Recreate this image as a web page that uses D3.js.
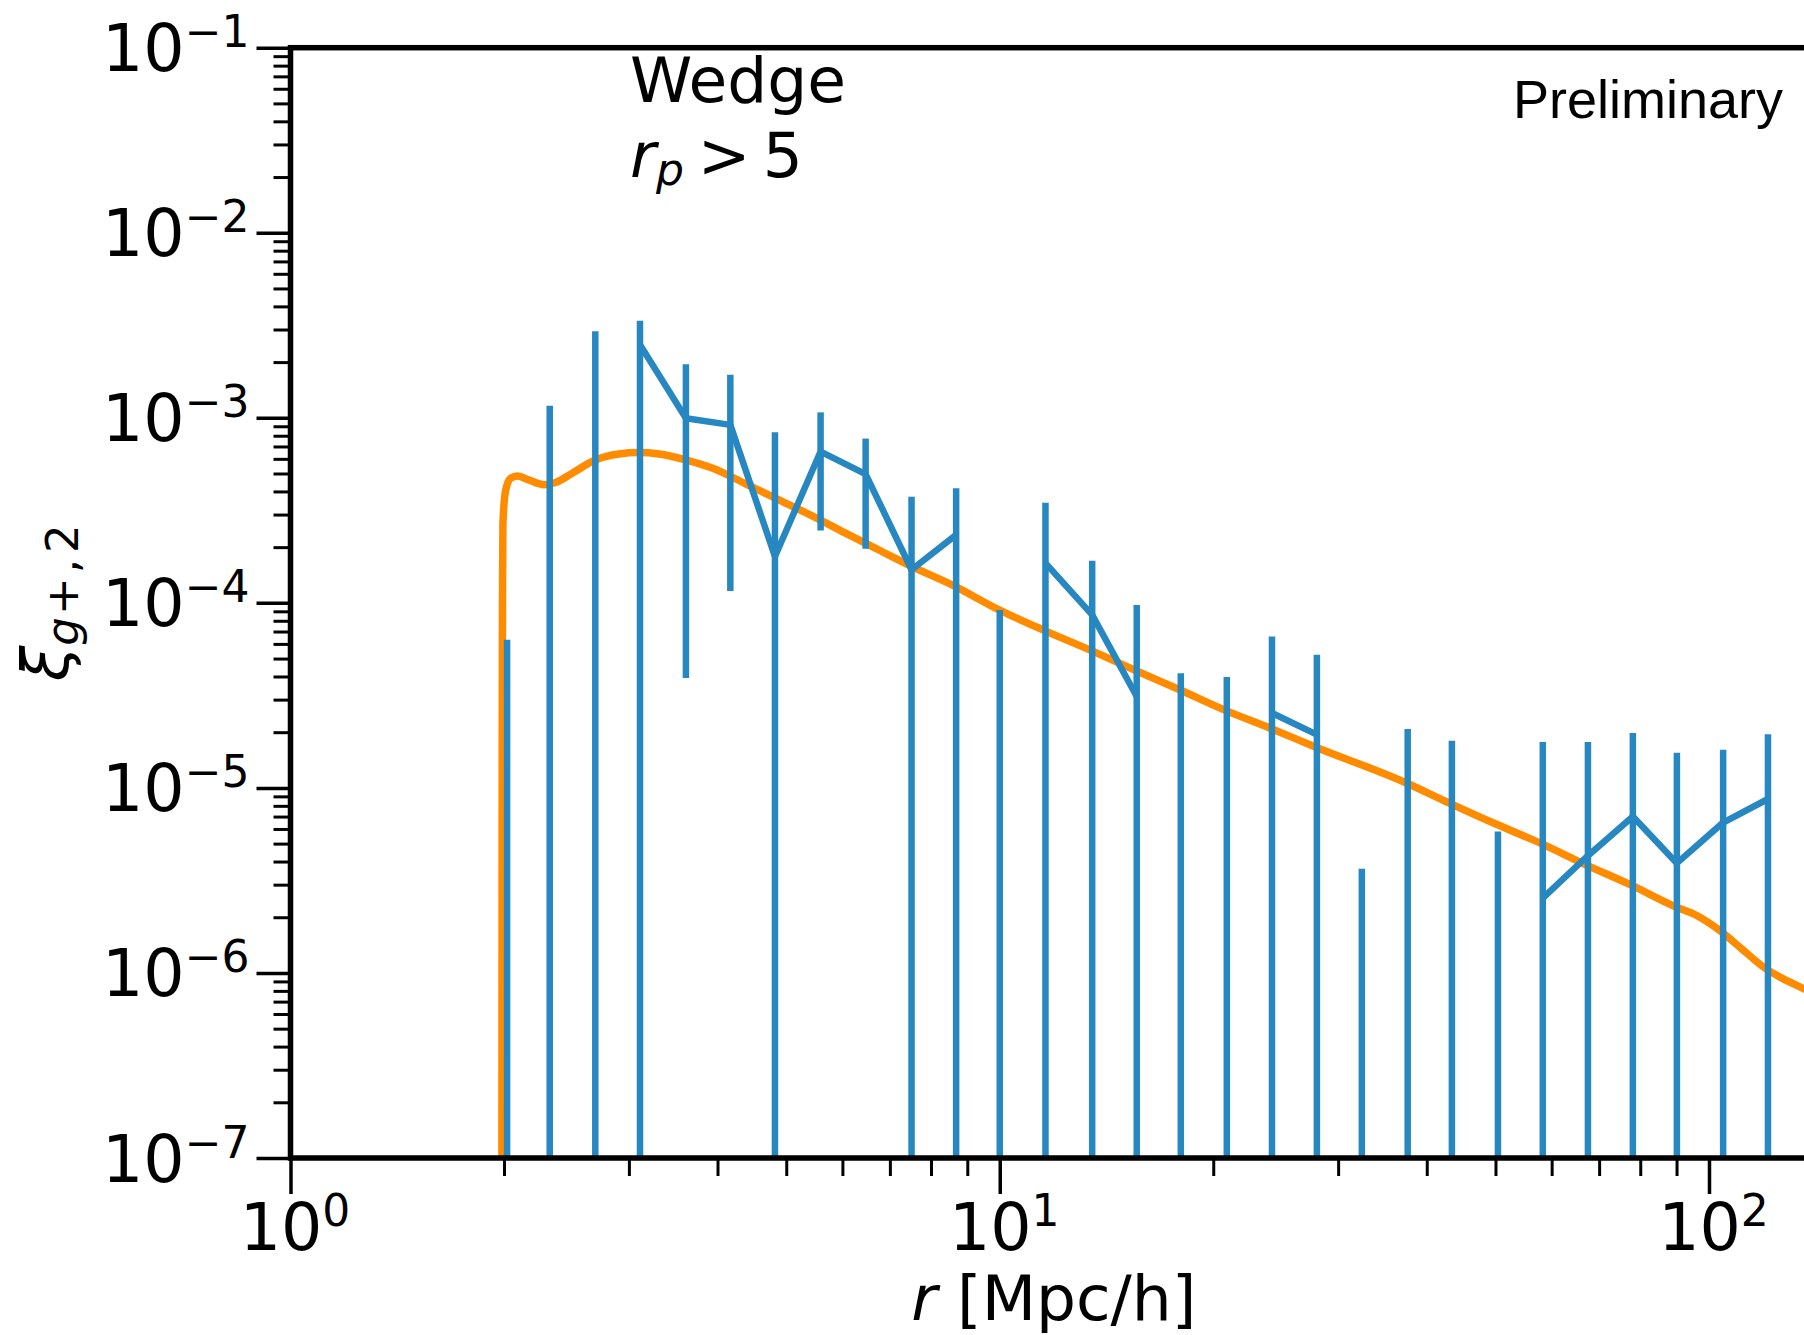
<!DOCTYPE html>
<html><head><meta charset="utf-8">
<script src="https://cdn.jsdelivr.net/npm/d3@7"></script>
<style>html,body{margin:0;padding:0;background:#fff;} svg{display:block;}</style>
</head><body>
<svg id="chart" width="1804" height="1335"></svg>
<script>
// ---------- data ----------
const xLimits = [1, 142];
const yLimits = [1e-7, 1e-1];

const rBins = [2.02, 2.32, 2.69, 3.11, 3.61, 4.17, 4.82, 5.59, 6.47, 7.51,
  8.68, 10.0, 11.6, 13.5, 15.6, 18.0, 20.9, 24.2, 28.0, 32.4,
  37.6, 43.4, 50.4, 58.3, 67.5, 78.1, 90.1, 104.7, 121.1];
// measured xi_{g+,2}; null = non-positive (not drawn on log axis)
const xiMeasured = [null, null, null, 2.48e-3, 9.95e-4, 9.16e-4, 1.78e-4, 6.57e-4, 4.96e-4, 1.51e-4,
  2.33e-4, null, 1.64e-4, 8.61e-5, 3.12e-5, null, null, 2.54e-5, 1.94e-5, null,
  null, null, null, 2.54e-6, 4.30e-6, 7.01e-6, 3.92e-6, 6.50e-6, 8.71e-6];
// upper end of each error bar
const errUpper = [6.31e-5, 1.16e-3, 2.94e-3, 3.35e-3, 1.95e-3, 1.71e-3, 8.36e-4, 1.07e-3, 7.72e-4, 3.75e-4,
  4.16e-4, 9.16e-5, 3.48e-4, 1.69e-4, 9.75e-5, 4.17e-5, 3.97e-5, 6.58e-5, 5.24e-5, 3.66e-6,
  2.08e-5, 1.80e-5, 5.81e-6, 1.77e-5, 1.77e-5, 1.98e-5, 1.55e-5, 1.61e-5, 1.95e-5];
// lower end of each error bar; null = non-positive (bar runs off the bottom)
const errLower = [null, null, null, null, 3.92e-5, 1.16e-4, null, 2.46e-4, 1.96e-4, null,
  null, null, null, null, null, null, null, null, null, null,
  null, null, null, null, null, null, null, null, null];

// model curve
const modelR = [1.985, 1.988, 1.990, 1.993, 2.011, 2.044, 2.088, 2.169, 2.277, 2.365,
  2.496, 2.693, 2.904, 3.099, 3.307, 3.606, 3.931, 4.381, 4.881, 5.438,
  6.060, 6.753, 7.522, 8.566, 9.98, 11.57, 13.39, 15.54, 17.94, 20.73,
  24.07, 27.80, 37.31, 43.04, 49.96, 57.83, 67.06, 77.44, 89.42, 96.65,
  103.9, 111.2, 120.0, 126.7, 135.5, 142.0];
const modelXi = [1e-9, 1e-5, 1.0e-4, 2.70e-4, 4.07e-4, 4.72e-4, 4.85e-4, 4.61e-4, 4.35e-4, 4.47e-4,
  5.02e-4, 5.93e-4, 6.38e-4, 6.49e-4, 6.38e-4, 5.93e-4, 5.35e-4, 4.40e-4, 3.60e-4, 2.95e-4,
  2.38e-4, 1.93e-4, 1.57e-4, 1.25e-4, 9.16e-5, 7.08e-5, 5.57e-5, 4.31e-5, 3.39e-5, 2.64e-5,
  2.10e-5, 1.67e-5, 1.07e-5, 8.28e-6, 6.40e-6, 5.03e-6, 3.84e-6, 3.00e-6, 2.29e-6, 2.02e-6,
  1.68e-6, 1.35e-6, 1.06e-6, 9.38e-7, 8.28e-7, 7.6e-7];

const xMajorTicks = [1, 10, 100];
const xTickExponents = ["0", "1", "2"];
const yMajorTicks = [1e-7, 1e-6, 1e-5, 1e-4, 1e-3, 1e-2, 1e-1];
const yTickExponents = ["\u22127", "\u22126", "\u22125", "\u22124", "\u22123", "\u22122", "\u22121"];

// ---------- layout ----------
const PL = 290.5, PR = 1817, PT = 47.7, PB = 1158;
const BLUE = "#2787c1", ORANGE = "#ff8c00";
const FONT = "'DejaVu Sans', sans-serif";

const svg = d3.select("#chart");
const x = d3.scaleLog().domain(xLimits).range([PL, PR]);
const y = d3.scaleLog().domain(yLimits).range([PB, PT]);

svg.append("defs").append("clipPath").attr("id", "plotclip")
  .append("rect").attr("x", PL).attr("y", PT)
  .attr("width", PR - PL).attr("height", PB - PT);

const plot = svg.append("g").attr("clip-path", "url(#plotclip)");

// model curve
const model = modelR.map((r, i) => ({r, v: modelXi[i]}));
plot.append("path")
  .datum(model)
  .attr("fill", "none")
  .attr("stroke", ORANGE)
  .attr("stroke-width", 7.5)
  .attr("stroke-linejoin", "round")
  .attr("d", d3.line().x(d => x(d.r)).y(d => y(d.v)).curve(d3.curveMonotoneX));

// data
const pts = rBins.map((r, i) => ({r, v: xiMeasured[i], hi: errUpper[i], lo: errLower[i]}));
plot.selectAll("line.err").data(pts).join("line")
  .attr("class", "err")
  .attr("x1", d => x(d.r)).attr("x2", d => x(d.r))
  .attr("y1", d => y(d.hi))
  .attr("y2", d => d.lo == null ? PB + 20 : y(d.lo))
  .attr("stroke", BLUE).attr("stroke-width", 6.5);

plot.append("path")
  .datum(pts)
  .attr("fill", "none")
  .attr("stroke", BLUE)
  .attr("stroke-width", 6.5)
  .attr("stroke-linejoin", "round")
  .attr("d", d3.line().defined(d => d.v != null).x(d => x(d.r)).y(d => y(d.v)));

// ---------- axes ----------
const isMajor = (v, list) => list.some(m => Math.abs(Math.log10(v) - Math.log10(m)) < 1e-6);
const yMinor = y.ticks().filter(v => !isMajor(v, yMajorTicks));
const xMinor = x.ticks().filter(v => !isMajor(v, xMajorTicks));

function styleAxis(g, w) {
  g.select(".domain").remove();
  g.selectAll(".tick line").attr("stroke", "#000").attr("stroke-width", w);
}

const yMinorG = svg.append("g").attr("transform", `translate(${PL},0)`)
  .call(d3.axisLeft(y).tickValues(yMinor).tickSize(17).tickFormat(""));
styleAxis(yMinorG, 3);
yMinorG.selectAll("text").remove();

const yMajorG = svg.append("g").attr("transform", `translate(${PL},0)`)
  .call(d3.axisLeft(y).tickValues(yMajorTicks).tickSize(34).tickFormat(""));
styleAxis(yMajorG, 3.5);
yMajorG.selectAll(".tick text").each(function(d) {
  const t = d3.select(this);
  t.text(null).attr("x", -41).attr("y", 23).attr("dy", null)
    .attr("text-anchor", "end").attr("fill", "#000")
    .style("font-family", FONT).style("font-size", "65px");
  t.append("tspan").text("10");
  t.append("tspan").attr("dy", -24).style("font-size", "44px").text(yTickExponents[yMajorTicks.indexOf(d)]);
});

const xMinorG = svg.append("g").attr("transform", `translate(0,${PB})`)
  .call(d3.axisBottom(x).tickValues(xMinor).tickSize(18).tickFormat(""));
styleAxis(xMinorG, 3);
xMinorG.selectAll("text").remove();

const xMajorG = svg.append("g").attr("transform", `translate(0,${PB})`)
  .call(d3.axisBottom(x).tickValues(xMajorTicks).tickSize(36).tickFormat(""));
styleAxis(xMajorG, 3.5);
xMajorG.selectAll(".tick text").each(function(d) {
  const t = d3.select(this);
  t.text(null).attr("y", 92).attr("dy", null).attr("x", 4)
    .attr("text-anchor", "middle").attr("fill", "#000")
    .style("font-family", FONT).style("font-size", "65px");
  t.append("tspan").text("10");
  t.append("tspan").attr("dy", -24).style("font-size", "44px").text(xTickExponents[xMajorTicks.indexOf(d)]);
});

// frame (spines)
svg.append("rect")
  .attr("x", PL).attr("y", PT)
  .attr("width", PR - PL).attr("height", PB - PT)
  .attr("fill", "none").attr("stroke", "#000").attr("stroke-width", 5.5);

// ---------- texts ----------
const xl = svg.append("text")
  .attr("x", (PL + PR) / 2).attr("y", 1320)
  .attr("text-anchor", "middle")
  .style("font-family", FONT).style("font-size", "63px");
xl.append("tspan").style("font-style", "italic").text("r");
xl.append("tspan").text(" [Mpc/h]");

const yl = svg.append("text")
  .attr("transform", `translate(68,${(PT + PB) / 2}) rotate(-90)`)
  .attr("text-anchor", "middle")
  .style("font-family", FONT).style("font-size", "64px");
yl.append("tspan").style("font-style", "italic").text("\u03BE");
yl.append("tspan").attr("dy", 10).style("font-size", "45px").style("font-style", "italic").text("g");
yl.append("tspan").style("font-size", "45px").attr("dx", 2).text("+");
yl.append("tspan").style("font-size", "45px").attr("dx", 4).text(",");
yl.append("tspan").style("font-size", "45px").attr("dx", 6).text("2");

svg.append("text")
  .attr("x", 630).attr("y", 101.7)
  .style("font-family", FONT).style("font-size", "63px")
  .text("Wedge");

const rp = svg.append("text")
  .attr("x", 630).attr("y", 176.7)
  .style("font-family", FONT).style("font-size", "63px");
rp.append("tspan").style("font-style", "italic").text("r");
rp.append("tspan").attr("dy", 8).style("font-size", "44px").style("font-style", "italic").text("p");
rp.append("tspan").attr("dy", -8).attr("dx", 14).text(">");
rp.append("tspan").attr("dx", 12).text("5");

svg.append("text")
  .attr("x", 1783).attr("y", 118.3)
  .attr("text-anchor", "end")
  .style("font-family", "'Liberation Sans', Arial, sans-serif").style("font-size", "54px")
  .text("Preliminary");
</script>
</body></html>
